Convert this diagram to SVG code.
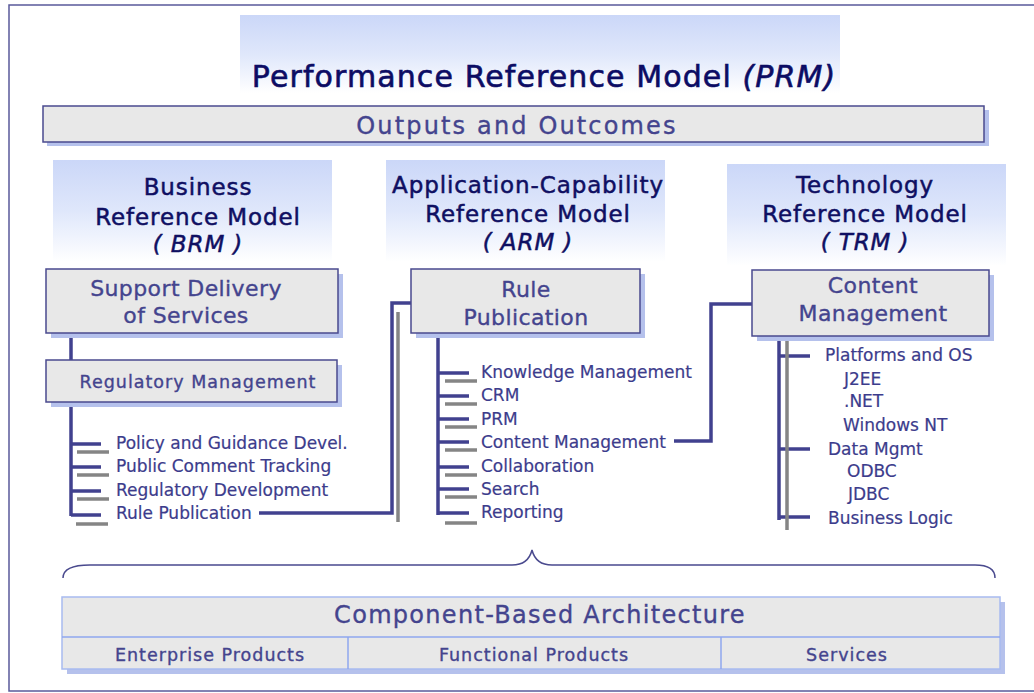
<svg xmlns="http://www.w3.org/2000/svg" width="1034" height="693" viewBox="0 0 1034 693">
<defs>
<linearGradient id="hg" x1="0" y1="0" x2="0" y2="1">
<stop offset="0" stop-color="#cbd7f8"/>
<stop offset="0.5" stop-color="#dfe7fb"/>
<stop offset="1" stop-color="#ffffff"/>
</linearGradient>
</defs>
<style>
.hdr{fill:url(#hg)}
.ht{font-family:"DejaVu Sans",Verdana,sans-serif;fill:#0f0f62;stroke:#0f0f62;stroke-width:0.5;font-size:23px;letter-spacing:0.9px;text-anchor:middle}
.it{font-style:italic}
.box{fill:#e8e8e8;stroke:#4a4a8e;stroke-width:1.5}
.sh{fill:#b5c1ec}
.bt{font-family:"DejaVu Sans",Verdana,sans-serif;fill:#44448e;stroke:#44448e;stroke-width:0.35;font-size:22px;letter-spacing:0.4px;text-anchor:middle}
.lt{font-family:"DejaVu Sans",Verdana,sans-serif;fill:#3c3c8c;stroke:#3c3c8c;stroke-width:0.2;font-size:17px}
.bl{stroke:#41418f;stroke-width:3.5;fill:none}
.gr{stroke:#858585;stroke-width:3.5;fill:none}
.cb{fill:#e8e8e8;stroke:#a8bbf0;stroke-width:1.5}
.out{font-size:24px;letter-spacing:2.15px}
.cba{font-size:24px;letter-spacing:1.3px}
.sub{font-size:17.5px;letter-spacing:1px}
</style>
<rect x="9" y="5" width="1040" height="686" fill="#ffffff" stroke="#5a5a9a" stroke-width="1.5"/>

<g id="title">
<rect class="hdr" x="240" y="15" width="600" height="78"/>
<text x="544" y="87" font-family="DejaVu Sans,Verdana,sans-serif" font-size="30" letter-spacing="1.1" fill="#0c0c64" stroke="#0c0c64" stroke-width="0.6" text-anchor="middle">Performance Reference Model <tspan font-style="italic">(PRM)</tspan></text>
</g>

<g id="outputs">
<rect class="sh" x="47" y="110" width="942" height="36"/>
<rect class="box" x="43" y="106" width="941" height="36"/>
<text class="bt out" x="517" y="134">Outputs and Outcomes</text>
</g>

<g id="brm-header">
<rect class="hdr" x="53" y="160" width="279" height="102"/>
<text class="ht" x="198" y="195">Business</text>
<text class="ht" x="198" y="225">Reference Model</text>
<text class="ht it" x="198" y="252">( BRM )</text>
</g>

<g id="arm-header">
<rect class="hdr" x="386" y="160" width="279" height="102"/>
<text class="ht" x="528" y="193">Application-Capability</text>
<text class="ht" x="528" y="222">Reference Model</text>
<text class="ht it" x="528" y="250">( ARM )</text>
</g>

<g id="trm-header">
<rect class="hdr" x="727" y="164" width="279" height="102"/>
<text class="ht" x="865" y="193">Technology</text>
<text class="ht" x="865" y="222">Reference Model</text>
<text class="ht it" x="865" y="250">( TRM )</text>
</g>

<g id="connectors">
<path class="bl" d="M71 333 V360 M71 402 V516 M71 444 H101 M71 467 H101 M71 491 H101 M71 515 H101"/>
<path class="gr" d="M77 452 H109 M77 475 H109 M77 499 H109 M76 524 H108"/>
<path class="gr" d="M398 312 V522"/>
<path class="bl" d="M259 513 H392 V303 H411"/>
<path class="bl" d="M438 333 V515 M438 373 H469 M438 396 H469 M438 419 H469 M438 442 H469 M438 467 H469 M438 489 H469 M438 513 H469"/>
<path class="gr" d="M445 381 H477 M445 404 H477 M445 427 H477 M445 450 H477 M445 475 H477 M445 497 H477 M445 523 H477"/>
<path class="bl" d="M674 441 H711 V304 H752"/>
<path class="bl" d="M779 311 V520 M779 356 H810 M779 449 H810 M779 517 H810"/>
<path class="gr" d="M787 319 V530"/>
<path d="M63 578 C63 570 70 565 90 565 H512 C525 565 530 558 532 550 C534 558 539 565 552 565 H975 C990 565 995 570 995 578" fill="none" stroke="#4a4a8e" stroke-width="1.5"/>
</g>

<g id="support-delivery">
<rect class="sh" x="51" y="274" width="292" height="64"/>
<rect class="box" x="46" y="269" width="292" height="64"/>
<text class="bt" x="186" y="296">Support Delivery</text>
<text class="bt" x="186" y="323">of Services</text>
</g>

<g id="regulatory-management">
<rect class="sh" x="51" y="365" width="291" height="42"/>
<rect class="box" x="46" y="360" width="291" height="42"/>
<text class="bt sub" x="198" y="388">Regulatory Management</text>
</g>

<g id="brm-list">
<text class="lt" x="116" y="449">Policy and Guidance Devel.</text>
<text class="lt" x="116" y="472">Public Comment Tracking</text>
<text class="lt" x="116" y="496">Regulatory Development</text>
<text class="lt" x="116" y="519">Rule Publication</text>
</g>

<g id="rule-publication">
<rect class="sh" x="416" y="274" width="229" height="64"/>
<rect class="box" x="411" y="269" width="229" height="64"/>
<text class="bt" x="526" y="297">Rule</text>
<text class="bt" x="526" y="325">Publication</text>
</g>

<g id="arm-list">
<text class="lt" x="481" y="378">Knowledge Management</text>
<text class="lt" x="481" y="401">CRM</text>
<text class="lt" x="481" y="425">PRM</text>
<text class="lt" x="481" y="448">Content Management</text>
<text class="lt" x="481" y="472">Collaboration</text>
<text class="lt" x="481" y="495">Search</text>
<text class="lt" x="481" y="518">Reporting</text>
</g>

<g id="content-management">
<rect class="sh" x="757" y="275" width="237" height="66"/>
<rect class="box" x="752" y="270" width="237" height="66"/>
<text class="bt" x="873" y="293">Content</text>
<text class="bt" x="873" y="321">Management</text>
</g>

<g id="trm-list">
<text class="lt" x="825" y="361">Platforms and OS</text>
<text class="lt" x="844" y="385">J2EE</text>
<text class="lt" x="844" y="407">.NET</text>
<text class="lt" x="843" y="431">Windows NT</text>
<text class="lt" x="828" y="455">Data Mgmt</text>
<text class="lt" x="847" y="477">ODBC</text>
<text class="lt" x="848" y="500">JDBC</text>
<text class="lt" x="828" y="524">Business Logic</text>
</g>

<g id="cba">
<rect class="sh" x="67" y="602" width="938" height="72"/>
<rect class="cb" x="62" y="597" width="938" height="72"/>
<path d="M62 637 H1000 M348 637 V669 M721 637 V669" stroke="#8fa6ee" stroke-width="1.5" fill="none"/>
<text class="bt cba" x="540" y="623">Component-Based Architecture</text>
<text class="bt sub" x="210" y="661">Enterprise Products</text>
<text class="bt sub" x="534" y="661">Functional Products</text>
<text class="bt sub" x="847" y="661">Services</text>
</g>
</svg>
